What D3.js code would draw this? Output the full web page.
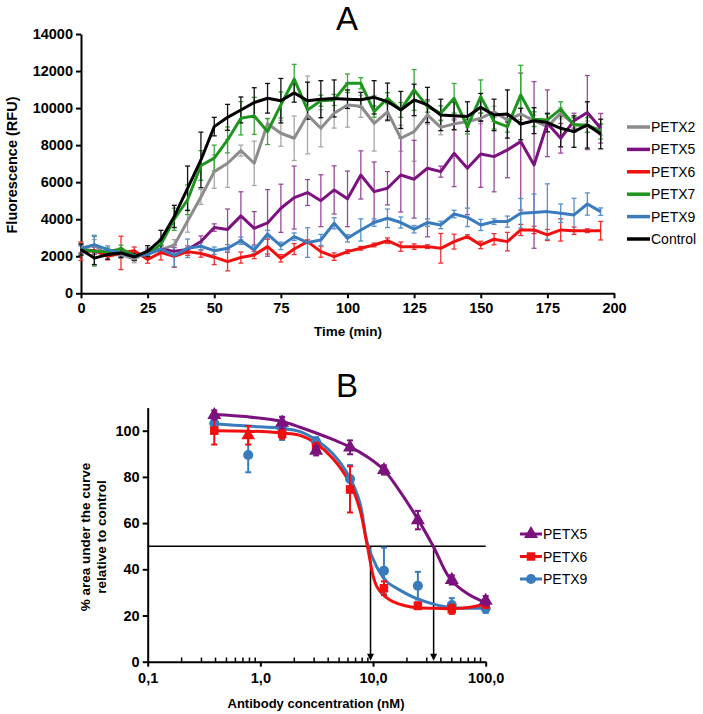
<!DOCTYPE html>
<html><head><meta charset="utf-8">
<script src="https://cdn.jsdelivr.net/npm/d3@7"></script>
<style>
body{margin:0;background:#fff;}
svg{display:block;font-family:"Liberation Sans",Arial,sans-serif;}
</style></head>
<body><svg id="c" width="703" height="714"></svg>
<script>
// ---------- Panel A data ----------
const timesA = [0,5,10,15,20,25,30,35,40,45,50,55,60,65,70,75,80,85,90,95,100,105,110,115,120,125,130,135,140,145,150,155,160,165,170,175,180,185,190,195];
const seriesNamesA = ["PETX2","PETX5","PETX6","PETX7","PETX9","Control"];
const petx2A = [2450,2600,2050,2100,1850,2250,2350,2600,3900,5200,6570,7020,7700,7020,9150,8640,8370,9630,8910,9720,10170,10100,9180,9800,8370,8730,9630,8960,9150,9270,9450,9800,9360,9680,9320,9000,9720,9140,9000,8850];
const petx2AErr = [300,300,200,200,200,200,200,300,600,400,900,1300,300,1200,300,700,1200,2100,1000,800,1200,600,1500,500,700,1600,500,400,300,300,300,300,300,300,300,300,300,300,300,300];
const petx5A = [2360,2300,2180,2180,1970,2180,2360,2270,2360,2800,3550,3450,4180,3510,3800,4590,5170,5440,5000,5580,5100,6390,5490,5670,6390,6160,6750,6570,7560,6750,7520,7380,7740,8190,6930,9180,8370,9320,9760,8910];
const petx5AErr = [200,200,200,200,200,200,200,200,200,300,200,1100,1300,900,1800,1300,1700,700,1400,1300,1500,1300,1600,900,2000,2100,3700,300,1800,2500,1800,1900,1500,3700,4500,1800,800,400,2000,800];
const petx6A = [2270,2300,2000,2180,2300,1825,2200,2000,2250,2150,1950,1710,1930,2070,2520,1890,2390,2790,2250,1980,2250,2430,2610,2840,2520,2520,2520,2430,2790,3060,2610,2920,2790,3420,3420,3150,3420,3380,3380,3380];
const petx6AErr = [500,200,200,900,200,200,400,600,200,200,400,500,300,200,400,200,300,100,300,200,100,100,100,150,250,150,100,800,400,100,200,300,500,300,200,300,600,200,100,500];
const petx7A = [2360,2270,2250,2400,2040,2100,2650,4000,5050,6900,7300,8280,9450,9580,8730,10170,11560,9900,10400,10440,11340,11340,9810,10530,9900,10980,10080,9720,10530,9000,10620,9270,9000,10710,9400,9360,9940,9090,9090,8730];
const petx7AErr = [300,800,200,200,200,200,300,600,800,800,700,700,900,1000,700,700,800,500,300,300,500,300,300,300,400,1100,300,400,800,400,900,400,300,1600,400,300,400,400,400,400];
const petx9A = [2400,2630,2360,2180,2000,2090,2400,2040,2430,2540,2300,2430,2840,2340,3200,2560,3060,2740,2880,3780,2970,3420,3820,4050,3820,3460,3820,3690,4280,4100,3690,3870,3870,4320,4360,4410,4320,4230,4820,4410];
const petx9AErr = [200,500,200,200,200,200,200,600,500,200,200,200,200,200,200,200,200,800,300,300,200,600,200,500,300,200,200,200,200,500,300,150,300,800,1000,1500,500,900,600,200];
const controlA = [2360,1900,2090,2180,1970,2270,2900,4150,5670,7200,9000,9500,9900,10300,10530,10400,10820,10400,10480,10520,10480,10450,10580,10350,9900,10440,10170,9630,9580,9540,10040,9630,9680,9140,9320,9220,8910,8730,9090,8600];
const controlAErr = [300,350,250,250,200,300,500,600,1200,1500,500,700,700,800,800,1200,500,1000,1000,1000,500,400,900,1000,1000,850,950,850,750,800,750,850,1300,850,700,500,1000,850,1250,800];
const xTicksA = [0,25,50,75,100,125,150,175,200];
const yTicksA = [0,2000,4000,6000,8000,10000,12000,14000];

// ---------- Panel B data ----------
const concB = [0.39,0.78,1.56,3.125,6.25,12.5,25,50,100];
const seriesNamesB = ["PETX5","PETX6","PETX9"];
const petx5B = [106.8,null,103.5,91.3,92.8,83,61.3,35.4,26.4];
const petx5BErr = [2,null,2.5,2,3,2,4,2,2];
const petx6B = [100,98,98.6,92.8,74.6,31.8,24.2,22.7,24.8];
const petx6BErr = [6,4,2,2,10,3,1.5,2,1.5];
const petx9B = [103.2,89.5,101,95.2,79.1,39.4,32.9,24.5,23.1];
const petx9BErr = [2,7.5,5,2,6,10,6,3,2];
// fitted curves (concentration, value)
const fit5X = [0.39,0.78,1.56,2.25,3.125,4.5,6.25,9,12.5,16.2,24.2,34.2,48,68,100];
const fit5Y = [107,106,104,101.5,99,96,93,88.5,83,75.8,62.8,50,36.1,29.6,25.5];
const fit6X = [0.39,0.78,1.56,2.25,3.125,4.4,6.25,7.66,8.93,10.8,14.1,21.1,35,50,70,100];
const fit6Y = [100,99.8,99,98,94.5,88,77.2,65.7,49.8,32.5,26.7,23.8,23.1,23,23.5,25];
const fit9X = [0.39,0.78,1.56,2.25,3.125,4.4,6.25,7.66,8.9,10.77,13.3,17.3,24.2,34.2,48,100];
const fit9Y = [103,102,101,99.6,96,90,79.4,68.6,51.3,41.1,34.6,31,27.4,25,23.5,23.1];
const ic50B = [9.5,34.5];
const halfLevelB = 50;
const xTicksB = [0.1,1,10,100];
const xMinorB = [0.2,0.3,0.4,0.5,0.6,0.7,0.8,0.9,2,3,4,5,6,7,8,9,20,30,40,50,60,70,80,90];
const yTicksB = [0,20,40,60,80,100];

// ---------- styling ----------
const colA = {PETX2:"#8c8c8c",PETX5:"#7b127e",PETX6:"#f01010",PETX7:"#1e961e",PETX9:"#3a7bbd",Control:"#000000"};
const errColA = {PETX2:"#a8a8a8",PETX5:"#9a4a9c",PETX6:"#f03030",PETX7:"#3aa83a",PETX9:"#5a90c8",Control:"#111111"};
const colB = {PETX5:"#7b127e",PETX6:"#f01010",PETX9:"#3a7bbd"};

const svg = d3.select("#c");

// ================= Panel A =================
const xA = d3.scaleLinear().domain([0,200]).range([81,614]);
const yA = d3.scaleLinear().domain([0,14000]).range([293.3,34]);
const dataA = {PETX2:[petx2A,petx2AErr],PETX5:[petx5A,petx5AErr],PETX6:[petx6A,petx6AErr],PETX7:[petx7A,petx7AErr],PETX9:[petx9A,petx9AErr],Control:[controlA,controlAErr]};

const gA = svg.append("g");
gA.append("text").attr("x",347).attr("y",30).attr("text-anchor","middle").attr("font-size",33).text("A");

const axXA = gA.append("g").attr("transform","translate(0,293.3)")
  .call(d3.axisBottom(xA).tickValues(xTicksA).tickSize(5).tickSizeOuter(0).tickPadding(4));
const axYA = gA.append("g").attr("transform","translate(81,0)")
  .call(d3.axisLeft(yA).tickValues(yTicksA).tickSize(5).tickSizeOuter(0).tickPadding(3).tickFormat(d3.format("d")));
[axXA,axYA].forEach(a=>{
  a.select(".domain").attr("stroke-width",2);
  a.selectAll(".tick line").attr("stroke-width",2);
  a.selectAll("text").attr("font-size",14.5).attr("font-weight","bold").attr("fill","#000").attr("font-family","'Liberation Sans',Arial,sans-serif");
});
gA.append("text").attr("x",348).attr("y",336).attr("text-anchor","middle").attr("font-size",13.5).attr("font-weight","bold").text("Time (min)");
gA.append("text").attr("transform","translate(17,165) rotate(-90)").attr("text-anchor","middle").attr("font-size",14.5).attr("font-weight","bold").text("Fluorescence (RFU)");

const lineA = d3.line().x((d,i)=>xA(timesA[i])).y(d=>yA(d));
seriesNamesA.forEach(name=>{
  const [vals,errs] = dataA[name];
  const g = gA.append("g");
  vals.forEach((v,i)=>{
    const x = xA(timesA[i]), y1 = yA(v-errs[i]), y2 = yA(v+errs[i]);
    g.append("line").attr("x1",x).attr("x2",x).attr("y1",y1).attr("y2",y2).attr("stroke",errColA[name]).attr("stroke-width",1.3);
    [y1,y2].forEach(yy=>g.append("line").attr("x1",x-2.5).attr("x2",x+2.5).attr("y1",yy).attr("y2",yy).attr("stroke",errColA[name]).attr("stroke-width",1.3));
  });
});
seriesNamesA.forEach(name=>{
  gA.append("path").datum(dataA[name][0]).attr("d",lineA).attr("fill","none")
    .attr("stroke",colA[name]).attr("stroke-width",3).attr("stroke-linejoin","round");
});
// legend A
seriesNamesA.forEach((name,i)=>{
  const cy = 127 + i*22.4;
  gA.append("line").attr("x1",627).attr("x2",650).attr("y1",cy).attr("y2",cy).attr("stroke",colA[name]).attr("stroke-width",3.5);
  gA.append("text").attr("x",651).attr("y",cy+5).attr("font-size",14).text(name);
});

// ================= Panel B =================
const xB = d3.scaleLog().domain([0.1,100]).range([147.7,485.7]);
const yB = d3.scaleLinear().domain([0,110]).range([661.7,407.6]);
const gB = svg.append("g");
gB.append("text").attr("x",347).attr("y",397).attr("text-anchor","middle").attr("font-size",33).text("B");

const axXB = gB.append("g").attr("transform","translate(0,661.7)")
  .call(d3.axisBottom(xB).tickValues(xTicksB).tickSize(5).tickSizeOuter(0).tickPadding(6)
    .tickFormat(d=>d3.format(".1f")(d).replace(".",",")));
gB.append("g").selectAll("line").data(xMinorB).join("line")
  .attr("x1",d=>xB(d)).attr("x2",d=>xB(d)).attr("y1",661.7).attr("y2",657.5).attr("stroke","#000").attr("stroke-width",1.5);
const axYB = gB.append("g").attr("transform","translate(147.7,0)")
  .call(d3.axisLeft(yB).tickValues(yTicksB).tickSize(5).tickSizeOuter(0).tickPadding(3));
[axXB,axYB].forEach(a=>{
  a.select(".domain").attr("stroke-width",2);
  a.selectAll(".tick line").attr("stroke-width",2);
  a.selectAll("text").attr("font-size",14.5).attr("font-weight","bold").attr("fill","#000").attr("font-family","'Liberation Sans',Arial,sans-serif");
});
gB.append("text").attr("x",316).attr("y",708).attr("text-anchor","middle").attr("font-size",13).attr("font-weight","bold").text("Antibody concentration (nM)");
const yl = gB.append("text").attr("transform","translate(90,537) rotate(-90)").attr("text-anchor","middle").attr("font-size",13.5).attr("font-weight","bold");
yl.append("tspan").attr("x",0).attr("dy",0).text("% area under the curve");
yl.append("tspan").attr("x",0).attr("dy",16).text("relative to control");

// half line and IC50 arrows
gB.append("line").attr("x1",xB(0.1)).attr("x2",xB(100)).attr("y1",yB(halfLevelB)).attr("y2",yB(halfLevelB)).attr("stroke","#000").attr("stroke-width",1.5);
ic50B.forEach(c=>{
  const x = xB(c);
  gB.append("line").attr("x1",x).attr("x2",x).attr("y1",yB(halfLevelB)).attr("y2",yB(0)-6).attr("stroke","#000").attr("stroke-width",1.5);
  gB.append("path").attr("d",`M${x-3.5},${yB(0)-8}L${x},${yB(0)-1}L${x+3.5},${yB(0)-8}Z`).attr("fill","#000");
});

const lineB = d3.line().x(d=>xB(d[0])).y(d=>yB(d[1])).curve(d3.curveCatmullRom.alpha(0.5));
const fits = {PETX5:[fit5X,fit5Y],PETX6:[fit6X,fit6Y],PETX9:[fit9X,fit9Y]};
const dataB = {PETX5:[petx5B,petx5BErr],PETX6:[petx6B,petx6BErr],PETX9:[petx9B,petx9BErr]};
const symType = {PETX5:d3.symbolTriangle,PETX6:d3.symbolSquare,PETX9:d3.symbolCircle};
const symSize = {PETX5:85,PETX6:72,PETX9:80};
// in the original, the PETX6 point at 0.78 nM is drawn with a triangle marker
const markerFor = (name,i)=> (name==="PETX6" && i===1) ? d3.symbol(d3.symbolTriangle,80)() : d3.symbol(symType[name],symSize[name])();
const orderB = ["PETX9","PETX6","PETX5"];
orderB.forEach(name=>{
  const [fx,fy] = fits[name];
  gB.append("path").datum(fx.map((x,i)=>[x,fy[i]])).attr("d",lineB).attr("fill","none").attr("stroke",colB[name]).attr("stroke-width",3);
});
orderB.forEach(name=>{
  const [vals,errs] = dataB[name];
  const g = gB.append("g");
  vals.forEach((v,i)=>{
    if (v==null) return;
    const x = xB(concB[i]), y1 = yB(v-errs[i]), y2 = yB(v+errs[i]);
    g.append("line").attr("x1",x).attr("x2",x).attr("y1",y1).attr("y2",y2).attr("stroke",colB[name]).attr("stroke-width",2);
    [y1,y2].forEach(yy=>g.append("line").attr("x1",x-3).attr("x2",x+3).attr("y1",yy).attr("y2",yy).attr("stroke",colB[name]).attr("stroke-width",2));
    g.append("path").attr("d",markerFor(name,i)).attr("transform",`translate(${x},${yB(v)})`).attr("fill",colB[name]);
  });
});
// legend B
seriesNamesB.forEach((name,i)=>{
  const cy = 534 + i*22.5;
  gB.append("line").attr("x1",520).attr("x2",542).attr("y1",cy).attr("y2",cy).attr("stroke",colB[name]).attr("stroke-width",3);
  gB.append("path").attr("d",d3.symbol(symType[name],symSize[name])()).attr("transform",`translate(531,${cy})`).attr("fill",colB[name]);
  gB.append("text").attr("x",543).attr("y",cy+5).attr("font-size",14).text(name);
});
</script></body></html>
